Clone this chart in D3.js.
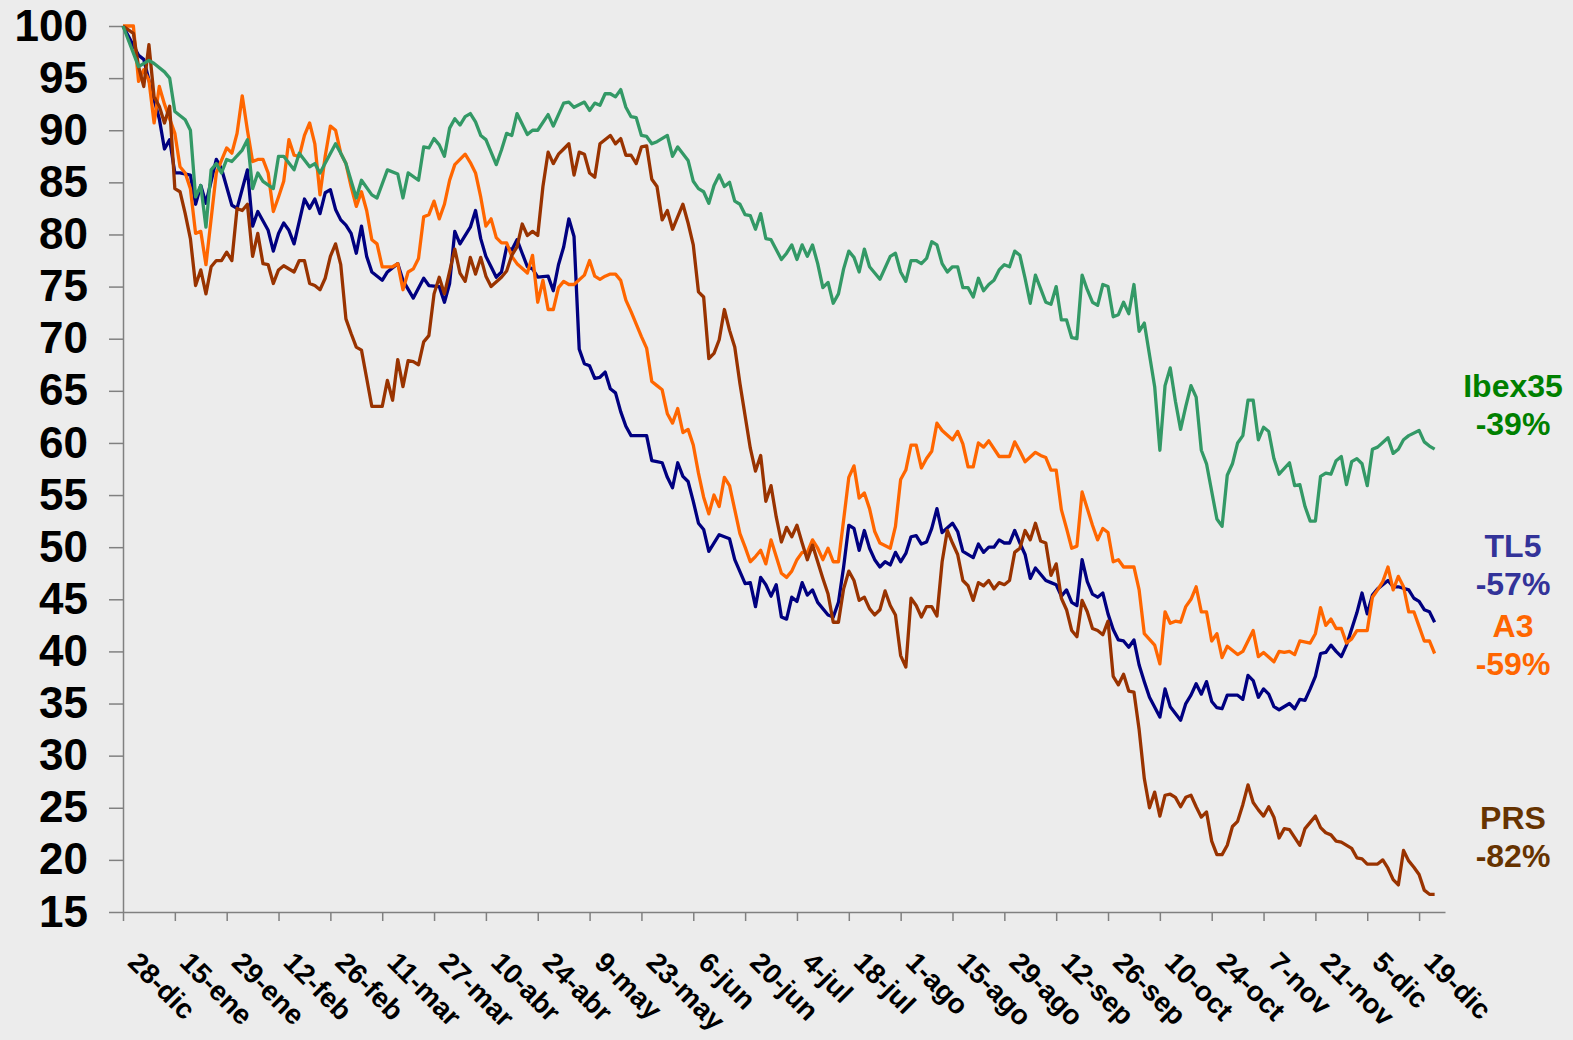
<!DOCTYPE html>
<html>
<head>
<meta charset="utf-8">
<script src="https://cdn.jsdelivr.net/npm/d3@7"></script>
<style>
body { margin: 0; background: #ececec; }
svg { display: block; font-family: "Liberation Sans", Arial, sans-serif; font-weight: bold; }
</style>
</head>
<body>
<svg id="svg" width="1573" height="1040"></svg>
<script>
// [sesion, valor base 100]
var ibex35 = [[0,100],[3,96.1],[5,96.7],[6,96.4],[8,95.6],[9,95.0],[10,91.8],[12,91.0],[13,90.0],[14,83.6],[15,84.7],[16,80.7],[17,86.2],[18,86.8],[19,85.9],[20,87.2],[21,87.0],[23,88.1],[24,89.1],[25,84.4],[26,85.9],[27,85.1],[29,84.4],[30,87.5],[31,87.5],[33,86.2],[34,87.8],[36,86.5],[37,86.8],[38,85.9],[41,88.7],[42,87.8],[43,86.8],[45,83.5],[46,85.2],[48,83.8],[49,83.5],[51,86.2],[53,85.8],[54,83.5],[55,85.9],[57,85.2],[58,88.4],[59,88.3],[60,89.2],[61,88.6],[62,87.5],[63,90.2],[64,91.1],[65,90.5],[66,91.3],[67,91.6],[68,90.8],[69,89.5],[70,89.1],[72,86.7],[73,88.1],[74,89.7],[75,89.5],[76,91.6],[78,89.6],[79,90.0],[80,90.0],[82,91.5],[83,90.4],[85,92.6],[86,92.7],[87,92.2],[89,92.7],[90,91.9],[91,92.6],[92,92.4],[93,93.5],[94,93.5],[95,93.2],[96,93.9],[97,92.2],[98,91.3],[99,91.2],[100,89.5],[101,89.4],[102,88.7],[103,88.9],[105,89.5],[106,87.5],[107,88.4],[109,87.1],[110,85.1],[111,84.4],[112,84.1],[113,83.0],[114,84.7],[115,85.7],[116,84.6],[117,85.0],[118,83.2],[119,82.9],[120,81.9],[121,81.8],[122,80.5],[123,82.0],[124,79.6],[125,79.5],[127,77.6],[128,78.2],[129,79.0],[130,77.6],[131,79.0],[132,77.9],[133,79.0],[134,77.2],[135,74.9],[136,75.4],[137,73.4],[138,74.3],[139,76.7],[140,78.4],[141,77.8],[142,76.4],[143,78.6],[144,76.9],[146,75.7],[148,77.9],[149,78.2],[150,76.4],[151,75.5],[152,77.5],[153,77.5],[154,77.2],[155,77.7],[156,79.3],[157,79.0],[158,77.2],[159,76.4],[160,76.9],[161,76.9],[162,74.9],[163,74.9],[164,74.0],[165,75.8],[166,74.6],[167,75.2],[168,75.6],[169,76.6],[170,77.1],[171,76.9],[172,78.4],[173,78.0],[174,75.8],[175,73.4],[176,76.1],[177,74.8],[178,73.5],[179,73.3],[180,75.0],[181,71.8],[182,71.8],[183,70.1],[184,70.0],[185,76.1],[186,74.7],[187,73.5],[188,73.2],[189,75.2],[190,75.0],[191,72.1],[192,72.3],[193,73.5],[194,72.4],[195,75.2],[196,70.7],[197,71.5],[199,65.4],[200,59.3],[201,65.5],[202,67.2],[203,64.0],[204,61.3],[205,63.5],[206,65.5],[207,64.4],[208,59.3],[209,58.0],[211,52.7],[212,52.0],[213,56.9],[214,58.0],[215,60.0],[216,60.7],[217,64.1],[218,64.1],[219,60.3],[220,61.5],[221,61.1],[222,58.5],[223,57.0],[225,58.1],[226,55.9],[227,56.0],[228,53.9],[229,52.5],[230,52.5],[231,56.8],[232,57.1],[233,57.0],[234,58.3],[235,58.7],[236,56.0],[237,58.2],[238,58.5],[239,58.0],[240,55.9],[241,59.4],[242,59.6],[244,60.5],[245,59.0],[246,59.4],[247,60.3],[248,60.7],[250,61.2],[251,60.1],[252,59.7],[253,59.4]];

var tl5 = [[0,100],[3,97.2],[4,96.8],[5,94.8],[6,92.9],[7,91.1],[8,88.2],[9,89.1],[10,85.9],[11,85.9],[13,85.7],[14,82.9],[15,84.7],[16,83.0],[18,87.2],[19,86.3],[21,82.8],[22,82.5],[24,86.2],[25,80.8],[26,82.2],[28,80.4],[29,78.4],[30,80.1],[31,81.1],[32,80.4],[33,79.1],[35,83.4],[36,82.5],[37,83.4],[38,82.0],[39,84.0],[40,84.3],[41,82.4],[42,81.4],[43,80.9],[44,80.1],[45,78.2],[46,80.8],[47,77.9],[48,76.4],[50,75.6],[51,76.4],[53,77.2],[54,75.6],[56,73.9],[58,75.8],[59,75.1],[61,75.0],[62,73.5],[63,75.3],[64,80.3],[65,79.1],[67,80.7],[68,82.3],[69,79.6],[70,77.9],[71,76.9],[72,75.9],[73,76.4],[74,78.8],[75,78.5],[76,79.5],[77,78.2],[78,76.9],[79,76.7],[80,75.9],[82,76.0],[83,74.6],[84,77.1],[85,78.8],[86,81.5],[87,79.8],[88,69.0],[89,67.6],[90,67.4],[91,66.2],[92,66.3],[93,66.8],[94,65.2],[95,64.8],[96,63.0],[97,61.6],[98,60.7],[100,60.7],[101,60.7],[102,58.3],[103,58.2],[104,58.1],[105,56.7],[106,55.7],[107,58.1],[108,56.8],[109,56.3],[110,54.4],[111,52.3],[112,51.7],[113,49.6],[115,51.2],[117,50.8],[118,48.8],[120,46.5],[121,46.6],[122,44.3],[123,47.1],[124,46.4],[125,45.3],[126,46.4],[127,43.3],[128,43.1],[129,45.2],[130,44.8],[131,46.6],[132,45.4],[133,45.9],[134,44.7],[136,43.5],[137,43.3],[138,44.7],[139,48.1],[140,52.1],[141,51.8],[142,49.7],[143,51.6],[144,49.9],[145,48.8],[146,48.1],[147,48.6],[148,48.3],[149,49.5],[150,48.6],[151,49.4],[152,51.0],[153,51.1],[154,50.3],[155,50.5],[156,51.8],[157,53.7],[158,51.4],[160,52.3],[161,51.5],[162,49.6],[164,49.0],[165,50.3],[166,49.5],[167,50.0],[168,50.0],[169,50.7],[170,50.4],[171,50.4],[172,51.6],[173,50.4],[174,49.3],[175,47.0],[176,48.0],[178,46.8],[179,46.6],[180,46.4],[181,45.3],[182,45.9],[183,44.7],[184,44.4],[185,48.8],[186,46.7],[187,45.5],[188,45.2],[189,45.6],[190,43.6],[191,42.1],[192,41.1],[193,41.0],[194,40.4],[195,41.1],[196,38.7],[197,37.1],[198,35.6],[200,33.7],[201,36.4],[202,34.7],[204,33.4],[205,35.0],[206,35.8],[207,36.9],[208,35.9],[209,37.1],[210,35.2],[211,34.6],[212,34.5],[213,35.8],[215,35.8],[216,35.4],[217,37.7],[218,37.2],[219,35.6],[220,36.4],[221,35.9],[222,34.7],[223,34.4],[225,35.0],[226,34.5],[227,35.4],[228,35.3],[229,36.4],[230,37.6],[231,39.8],[232,39.9],[233,40.6],[234,40.0],[235,39.5],[236,40.6],[238,43.7],[239,45.6],[240,43.6],[241,45.4],[242,46.0],[244,46.8],[245,46.2],[246,46.2],[248,45.9],[249,45.1],[250,44.8],[251,44.0],[252,43.8],[253,42.8]];

var a3 = [[0,100],[2,100],[3,94.7],[4,95.8],[5,94.8],[6,90.7],[7,94.2],[8,92.5],[10,89.7],[11,86.5],[12,85.9],[13,84.4],[14,80.1],[15,80.3],[16,77.1],[18,85.9],[19,87.1],[20,88.3],[21,87.8],[22,89.7],[23,93.3],[24,90.0],[25,87.0],[26,87.2],[27,87.2],[28,85.9],[29,82.2],[30,83.6],[31,85.1],[32,89.1],[33,87.6],[34,87.5],[35,89.5],[36,90.7],[37,88.7],[38,83.8],[39,87.5],[40,90.4],[41,90.0],[42,87.8],[43,86.8],[44,84.6],[45,82.7],[46,84.1],[47,82.3],[48,79.5],[49,79.1],[50,76.9],[52,76.9],[53,77.2],[54,74.7],[55,76.4],[56,76.7],[57,77.7],[58,81.7],[59,81.9],[60,83.2],[61,81.5],[62,82.9],[63,85.2],[64,86.7],[66,87.7],[67,86.9],[68,85.9],[69,83.6],[70,80.8],[71,81.5],[72,79.7],[73,79.2],[74,79.2],[75,77.9],[76,77.2],[78,76.3],[79,78.0],[80,73.5],[81,75.6],[82,72.8],[83,72.8],[84,74.9],[85,75.5],[86,75.2],[87,75.2],[89,76.1],[90,77.5],[91,76.0],[92,75.7],[93,76.0],[94,76.2],[95,76.2],[96,75.6],[97,73.7],[98,72.6],[100,70.2],[101,69.1],[102,65.9],[103,65.5],[104,65.1],[105,62.8],[106,61.9],[107,63.3],[108,61.0],[109,61.3],[110,59.8],[111,57.1],[112,54.8],[113,53.2],[114,55.0],[115,53.9],[116,56.7],[117,55.9],[118,53.6],[119,51.3],[120,50.0],[121,48.6],[122,49.1],[123,49.7],[124,48.4],[125,50.7],[126,49.1],[127,47.5],[128,47.1],[129,47.7],[130,48.8],[131,49.5],[132,49.5],[133,50.7],[134,49.9],[135,48.8],[136,49.9],[137,48.6],[138,48.6],[139,52.6],[140,56.7],[141,57.8],[142,54.7],[143,55.2],[144,53.7],[145,51.5],[146,50.4],[148,49.9],[149,52.0],[150,56.5],[151,57.4],[152,59.8],[153,59.8],[154,57.6],[155,58.5],[156,59.2],[157,61.9],[158,61.2],[160,60.3],[161,61.1],[162,59.9],[163,57.7],[164,57.7],[165,60.0],[166,59.6],[167,60.2],[169,58.7],[171,58.7],[172,60.1],[173,59.2],[174,58.2],[176,59.1],[177,58.8],[178,58.6],[179,57.4],[180,57.4],[181,53.6],[182,51.8],[183,49.9],[184,50.1],[185,55.3],[186,53.7],[187,52.1],[188,50.7],[189,51.8],[190,51.4],[191,48.6],[192,48.8],[193,48.1],[195,48.1],[196,45.9],[197,41.7],[199,40.6],[200,38.8],[201,43.8],[202,42.7],[203,42.9],[204,42.8],[205,44.3],[206,45.0],[207,46.2],[208,43.8],[209,43.8],[210,41.0],[211,41.7],[212,39.4],[213,40.5],[215,39.7],[216,40.0],[218,42.0],[219,39.5],[220,39.9],[222,39.0],[223,40.0],[224,39.9],[225,40.0],[226,39.7],[227,41.0],[229,40.8],[230,41.7],[231,44.2],[232,42.5],[233,43.1],[234,42.2],[235,42.2],[236,40.8],[237,41.2],[238,42.0],[240,42.0],[241,45.2],[242,45.9],[243,46.7],[244,48.1],[245,45.9],[246,47.2],[247,46.2],[248,43.8],[249,43.8],[250,42.4],[251,41.0],[252,41.0],[253,39.8]];

var prs = [[0,100],[2,99.3],[3,96.1],[4,94.2],[5,98.2],[6,93.2],[7,92.3],[8,90.7],[9,92.3],[10,84.4],[11,84.1],[12,82.0],[13,79.6],[14,75.1],[15,76.6],[16,74.3],[17,76.9],[18,77.5],[19,77.5],[20,78.3],[21,77.5],[22,82.5],[23,82.3],[24,82.9],[25,77.9],[26,80.1],[27,77.2],[28,77.1],[29,75.3],[30,76.6],[31,77.0],[33,76.4],[34,77.5],[35,77.5],[36,75.3],[37,75.1],[38,74.7],[39,75.8],[40,77.9],[41,79.1],[42,77.1],[43,71.9],[44,70.5],[45,69.2],[46,68.9],[47,66.2],[48,63.5],[50,63.5],[51,66.0],[52,64.1],[53,68.0],[54,65.4],[55,67.9],[56,67.8],[57,67.5],[58,69.7],[59,70.3],[60,74.3],[61,75.9],[62,74.3],[64,78.6],[65,76.3],[66,75.5],[67,77.8],[68,76.2],[69,77.8],[70,76.0],[71,75.0],[73,75.9],[74,76.5],[75,78.0],[76,78.8],[77,81.0],[78,79.9],[79,80.3],[80,79.9],[81,84.6],[82,87.9],[83,86.8],[84,87.7],[85,88.2],[86,88.7],[87,85.7],[88,87.9],[89,87.7],[90,85.9],[91,85.5],[92,88.7],[94,89.5],[95,88.7],[96,89.2],[97,87.6],[98,87.6],[99,86.8],[100,88.4],[101,88.5],[102,85.3],[103,84.6],[104,81.4],[105,82.3],[106,80.5],[108,82.9],[109,81.1],[110,79.0],[111,74.5],[112,74.0],[113,68.1],[114,68.6],[115,69.9],[116,72.8],[117,70.8],[118,69.2],[119,65.7],[121,59.5],[122,57.3],[123,58.8],[124,54.4],[125,55.9],[126,52.9],[127,50.5],[128,51.9],[129,51.0],[130,52.1],[131,50.4],[132,48.8],[133,50.2],[134,48.6],[135,47.0],[136,45.5],[137,42.8],[138,42.8],[139,46.0],[140,47.7],[141,46.8],[142,44.9],[143,45.2],[144,44.1],[145,43.5],[146,44.0],[147,45.8],[148,44.4],[149,43.5],[150,39.6],[151,38.5],[152,45.1],[153,44.4],[154,43.3],[155,44.3],[156,44.3],[157,43.4],[158,48.6],[159,51.6],[160,50.4],[161,49.3],[162,46.8],[163,46.3],[164,44.9],[165,46.6],[166,46.3],[167,46.8],[168,46.0],[169,46.6],[170,46.4],[171,46.8],[172,49.5],[173,49.9],[174,51.6],[175,50.7],[176,52.3],[177,50.6],[178,50.4],[179,47.3],[180,48.4],[181,45.1],[182,44.0],[183,42.0],[184,41.4],[185,44.9],[186,43.8],[187,42.2],[188,42.0],[189,41.6],[190,42.9],[191,37.6],[192,36.8],[193,37.8],[194,36.2],[195,36.1],[196,32.5],[197,27.8],[198,25.0],[199,26.5],[200,24.2],[201,26.2],[202,26.3],[203,26.0],[204,25.1],[205,26.0],[206,26.2],[207,25.1],[208,24.1],[209,24.6],[210,21.8],[211,20.5],[212,20.5],[213,21.4],[214,23.2],[215,23.7],[216,25.3],[217,27.2],[218,25.5],[219,24.8],[220,24.2],[221,25.1],[222,24.1],[223,22.1],[224,23.0],[225,22.9],[227,21.4],[228,23.0],[230,24.2],[231,23.1],[232,22.6],[233,22.4],[234,21.8],[235,21.7],[237,21.1],[238,20.2],[239,20.1],[240,19.6],[242,19.6],[243,20.0],[244,19.2],[245,18.1],[246,17.6],[247,20.9],[248,19.9],[249,19.3],[250,18.6],[251,17.1],[252,16.7],[253,16.7]];

var xTickLabels = ["28-dic","15-ene","29-ene","12-feb","26-feb","11-mar","27-mar","10-abr","24-abr","9-may","23-may","6-jun","20-jun","4-jul","18-jul","1-ago","15-ago","29-ago","12-sep","26-sep","10-oct","24-oct","7-nov","21-nov","5-dic","19-dic"];
var yTicks = [15,20,25,30,35,40,45,50,55,60,65,70,75,80,85,90,95,100];

var seriesNames = ["Ibex35","TL5","A3","PRS"];
var seriesChange = ["-39%","-57%","-59%","-82%"];

// estilos
var lineColors = {"Ibex35":"#339966","TL5":"#000080","A3":"#ff6600","PRS":"#993300"};
var labelColors = {"Ibex35":"#008000","TL5":"#333399","A3":"#ff6600","PRS":"#663300"};
var labelY = {"Ibex35":397,"TL5":557,"A3":637,"PRS":829};

var seriesData = {"Ibex35":ibex35,"TL5":tl5,"A3":a3,"PRS":prs};

var svg = d3.select("#svg");

var x = d3.scaleLinear().domain([0,255]).range([123,1445]);
var y = d3.scaleLinear().domain([15,100]).range([912,26]);

// eje y
var yAxis = svg.append("g")
    .attr("transform","translate(123,0)")
    .call(d3.axisLeft(y).tickValues(yTicks).tickSize(14).tickSizeOuter(0).tickPadding(21));
yAxis.selectAll("line,path").attr("stroke","#808080").attr("stroke-width",1.5);
yAxis.selectAll("text")
    .attr("font-size",44)
    .attr("font-family","'Liberation Sans', Arial, sans-serif")
    .attr("font-weight","bold")
    .attr("fill","#000");

// eje x: una marca cada 10 sesiones
var xTickDays = xTickLabels.map(function(d,i){ return i*10; });
var xAxis = svg.append("g")
    .attr("transform","translate(0,912)")
    .call(d3.axisBottom(x).tickValues(xTickDays).tickSize(9).tickSizeOuter(0)
        .tickFormat(function(d,i){ return xTickLabels[i]; }));
xAxis.selectAll("line,path").attr("stroke","#808080").attr("stroke-width",1.5);
xAxis.selectAll("text")
    .attr("font-size",28)
    .attr("font-family","'Liberation Sans', Arial, sans-serif")
    .attr("font-weight","bold")
    .attr("fill","#000")
    .attr("text-anchor","start")
    .attr("x",0).attr("y",0).attr("dy",0)
    .attr("transform","translate(3,52) rotate(45)");

// lineas
var line = d3.line()
    .x(function(d){ return x(d[0]); })
    .y(function(d){ return y(d[1]); });

var drawOrder = ["TL5","A3","PRS","Ibex35"];
svg.selectAll("path.serie").data(drawOrder).enter()
    .append("path")
    .attr("class","serie")
    .attr("d",function(d){ return line(seriesData[d]); })
    .attr("fill","none")
    .attr("stroke",function(d){ return lineColors[d]; })
    .attr("stroke-width",3.3)
    .attr("stroke-linejoin","round");

// etiquetas a la derecha
var labels = svg.selectAll("g.lab").data(seriesNames).enter()
    .append("g").attr("class","lab");
labels.append("text")
    .attr("x",1513).attr("y",function(d){ return labelY[d]; })
    .attr("text-anchor","middle").attr("font-size",32)
    .attr("fill",function(d){ return labelColors[d]; })
    .text(function(d){ return d; });
labels.append("text")
    .attr("x",1513).attr("y",function(d){ return labelY[d] + 38; })
    .attr("text-anchor","middle").attr("font-size",32)
    .attr("fill",function(d){ return labelColors[d]; })
    .text(function(d,i){ return seriesChange[i]; });
</script>
</body>
</html>
